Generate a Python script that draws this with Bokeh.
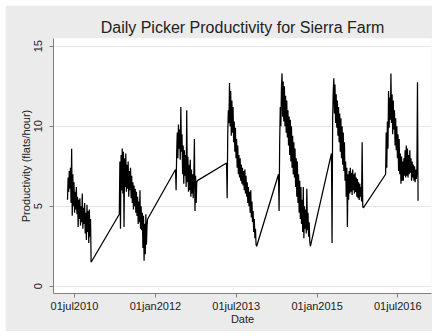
import numpy as np
from bokeh.plotting import figure
from bokeh.models import FixedTicker, Range1d
from bokeh.embed import file_html
from bokeh.resources import INLINE

# ---- data ----
season_starts = ["2010-05-15", "2011-05-01", "2012-05-16", "2013-04-27",
                 "2014-04-14", "2015-04-08", "2016-04-09"]
step_days = 4

s2010 = [5.4, 6.8, 5.9, 7.2, 6.1, 7.4, 5.2, 8.6, 4.4, 7.0, 5.0, 6.5, 4.6, 5.9,
         4.8, 6.2, 4.5, 5.6, 3.7, 5.4, 4.2, 5.5, 3.8, 5.0, 4.0, 5.8, 3.6, 4.9,
         3.9, 5.2, 3.3, 4.6, 2.9, 5.1, 3.4, 4.7, 2.7, 4.8, 3.1, 4.2, 1.5]
s2011 = [4.5, 7.8, 3.6, 8.2, 6.0,
         8.6, 5.8, 8.4, 3.7, 8.0, 6.2, 8.3,
         5.9, 7.6, 6.1, 7.8, 5.6, 7.2, 6.0, 7.4, 5.5, 6.9,
         5.2, 6.5, 4.8, 6.3, 5.0, 6.1, 4.6, 5.9, 4.4, 5.6,
         3.9, 5.3, 4.0, 6.0, 3.6, 5.0, 3.5, 4.6,
         2.4, 4.4, 1.6, 3.9, 2.0, 4.5, 2.6,
         3.8, 4.2]
s2012 = [7.3, 6.0, 8.4, 9.6,
         8.0, 10.1, 8.6, 9.8, 7.9, 11.2, 8.4, 9.5,
         7.0, 8.8, 6.4, 8.5, 6.9, 8.2, 6.2, 11.0, 6.5,
         8.1, 5.9, 7.6, 6.0, 7.9, 5.6, 7.3, 5.8, 7.0, 5.5, 6.8,
         9.2, 4.7, 6.9, 5.2, 6.5, 6.6]
s2013 = [7.7, 5.5, 9.5, 11.0, 10.2,
         12.7, 10.0, 12.2, 9.4, 11.6,
         9.6, 11.2, 9.0, 10.3, 8.4,
         9.9, 8.0, 9.2, 7.4, 8.8,
         7.0, 8.2, 6.8, 8.0, 6.6,
         7.6, 6.4, 7.4, 6.3, 7.2,
         6.0, 7.3, 5.8, 6.9, 5.6,
         6.5, 5.2, 6.2, 5.0, 5.9,
         4.6, 6.0, 4.3, 5.3, 4.0,
         4.7, 3.4, 4.2, 3.0, 3.6,
         2.6, 2.5]
s2014 = [7.0, 4.7, 9.0, 11.2, 10.0, 12.4,
         13.3, 10.6, 12.8, 10.3, 12.5,
         10.0, 11.9, 9.6, 11.6, 9.3,
         11.0, 8.8, 10.6, 8.2, 10.4,
         7.8, 10.0, 7.4, 9.4, 7.0,
         9.0, 6.8, 8.6, 6.2, 8.0,
         5.6, 7.8, 5.2, 7.0, 4.6,
         6.6, 4.2, 6.2, 3.9, 5.4,
         3.4, 6.2, 3.0, 5.0, 3.6,
         4.8, 3.3, 6.1, 3.5, 4.6,
         3.1, 4.0, 2.8, 2.5]
s2015 = [8.3, 2.7, 10.5, 12.2, 13.0,
         10.8, 12.6, 10.2, 12.0, 9.9,
         11.6, 9.4, 11.2, 9.0, 10.8,
         8.4, 10.5, 8.0, 10.0, 7.6,
         9.6, 7.2, 9.0, 6.6, 7.8,
         5.6, 7.4, 3.7, 7.0, 5.4,
         7.2, 5.8, 7.4, 5.9, 7.1,
         5.7, 7.3, 6.0, 7.0, 5.8,
         7.1, 5.9, 6.8, 5.6, 6.7,
         5.5, 6.5, 5.4, 6.4, 5.6,
         6.2, 5.3, 9.0, 5.0, 4.9]
s2016 = [7.0, 9.6, 7.4, 10.3, 8.6,
         12.2, 9.9, 11.8, 10.4, 13.3,
         10.2, 12.0, 9.5, 11.6, 9.8,
         11.0, 8.8, 10.5, 8.5, 10.0,
         8.0, 9.5, 7.2, 9.2, 7.0,
         8.3, 6.4, 8.1, 6.6, 7.8,
         6.6, 8.0, 6.9, 8.5, 6.8,
         8.8, 6.9, 8.6, 6.8, 8.2,
         7.0, 8.5, 7.1, 8.0, 6.6,
         7.8, 6.8, 7.6, 6.6, 7.5,
         6.5, 7.3, 6.7, 7.2, 12.75, 5.35]
seasons = [s2010, s2011, s2012, s2013, s2014, s2015, s2016]

tick_dates = ["2010-07-01", "2012-01-01", "2013-07-01", "2015-01-01", "2016-07-01"]
tick_labels = ["01jul2010", "01jan2012", "01jul2013", "01jan2015", "01jul2016"]
y_ticks = [0, 5, 10, 15]


def to_ms(d):
    return np.asarray(d).astype("datetime64[ms]").astype("int64").astype(float)


xs, ys = [], []
for start, vals in zip(season_starts, seasons):
    days = np.datetime64(start) + np.arange(len(vals)) * np.timedelta64(step_days, "D")
    xs.extend(to_ms(days).tolist())
    ys.extend(vals)

tick_ms = to_ms(np.array(tick_dates, dtype="datetime64[D]")).tolist()

FONT = "Liberation Sans"

p = figure(width=427, height=326, output_backend="svg", toolbar_location=None,
           x_range=Range1d(float(to_ms(np.datetime64("2010-02-09"))),
                           float(to_ms(np.datetime64("2017-02-14")))),
           y_range=Range1d(-0.45, 15.48),
           min_border_left=48, min_border_right=1, min_border_top=33,
           min_border_bottom=38, margin=(5, 5, 5, 5))

p.background_fill_color = "white"
p.border_fill_color = "#ebebeb"
p.outline_line_color = None

p.line(xs, ys, line_color="black", line_width=1.25)

# title
p.title.text = "Daily Picker Productivity for Sierra Farm"
p.title.align = "center"
p.title.text_font = FONT
p.title.text_font_size = "16px"
p.title.text_font_style = "normal"
p.title.text_color = "#222222"
p.title.standoff = 6

# x axis
xa = p.xaxis[0]
xa.ticker = FixedTicker(ticks=tick_ms)
xa.major_label_overrides = {t: l for t, l in zip(tick_ms, tick_labels)}
xa.axis_label = "Date"
xa.minor_tick_line_color = None

ya = p.yaxis[0]
ya.ticker = FixedTicker(ticks=y_ticks)
ya.axis_label = "Productivity (flats/hour)"
ya.major_label_orientation = "vertical"
ya.minor_tick_line_color = None

for ax in (xa, ya):
    ax.axis_line_color = "#808080"
    ax.major_tick_line_color = "#808080"
    ax.major_tick_out = 4
    ax.major_tick_in = 0
    ax.major_label_text_font = FONT
    ax.major_label_text_font_size = "11px"
    ax.major_label_text_color = "#222222"
    ax.axis_label_text_font = FONT
    ax.axis_label_text_font_size = "11px"
    ax.axis_label_text_font_style = "normal"
    ax.axis_label_text_color = "#222222"

xa.major_label_standoff = 2
xa.axis_label_standoff = -2
ya.major_label_standoff = 7
ya.axis_label_standoff = 0

p.xgrid.grid_line_color = None
p.ygrid.grid_line_color = "#e6e6e6"
p.ygrid.grid_line_width = 1

open("out.html", "w").write(file_html(p, INLINE))
